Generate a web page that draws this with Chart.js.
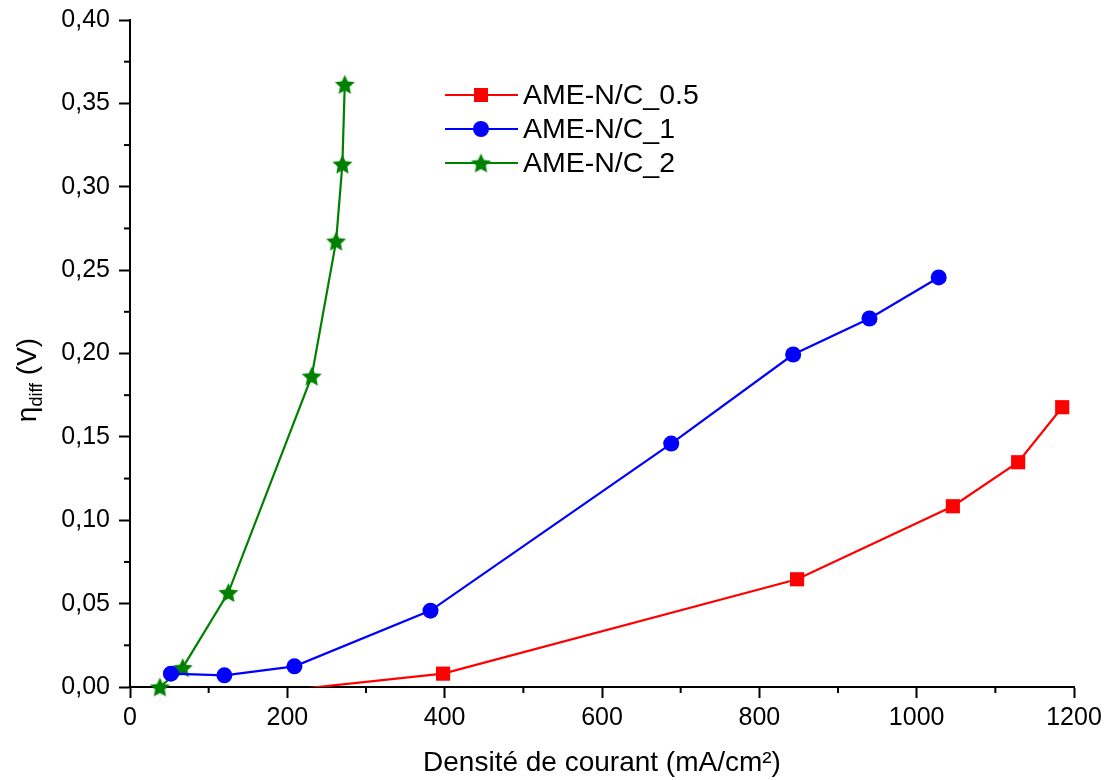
<!DOCTYPE html>
<html lang="fr">
<head>
<meta charset="UTF-8">
<script src="https://cdn.jsdelivr.net/npm/chart.js"></script>
<title>Surtension de diffusion</title>
<style>
    body { margin: 0; background: #fff; }
    #wrap { width: 1107px; height: 780px; }
</style>
</head>
<body>
<div id="wrap"><canvas id="etaChart"></canvas></div>

<script>
// données
const seriesNames = ['AME-N/C_0.5', 'AME-N/C_1', 'AME-N/C_2'];

const x_05 = [100, 398, 848, 1046, 1129, 1185];
const y_05 = [-0.007, 0.008, 0.0646, 0.1084, 0.1348, 0.1678];

const x_1 = [52, 120, 209, 382, 688, 843, 940, 1028];
const y_1 = [0.008, 0.007, 0.0124, 0.0458, 0.146, 0.1994, 0.221, 0.2456];

const x_2 = [38, 67, 125, 231, 262, 270, 273];
const y_2 = [0.0, 0.0116, 0.0566, 0.1864, 0.2674, 0.3136, 0.3614];

const xTicks = [0, 200, 400, 600, 800, 1000, 1200];
const yTicks = [0, 0.05, 0.10, 0.15, 0.20, 0.25, 0.30, 0.35, 0.40];

const FONT = '"Liberation Sans", Arial, sans-serif';

function toPoints(xs, ys) {
    return xs.map((x, i) => ({ x: x, y: ys[i] }));
}

// étoile pleine pour la 3e série
function makeStar(color, r) {
    const c = document.createElement('canvas');
    const s = Math.ceil(r * 2 + 2);
    c.width = s; c.height = s;
    const g = c.getContext('2d');
    g.fillStyle = color;
    g.beginPath();
    for (let i = 0; i < 10; i++) {
        const rad = i % 2 === 0 ? r : r * 0.48;
        const a = -Math.PI / 2 + i * Math.PI / 5;
        const px = s / 2 + rad * Math.cos(a);
        const py = s / 2 + 1 + rad * Math.sin(a);
        if (i === 0) g.moveTo(px, py); else g.lineTo(px, py);
    }
    g.closePath();
    g.fill();
    return c;
}
const starImg = makeStar('#008000', 10.5);

// petites graduations + légende + titre de l'axe y
const extras = {
    id: 'extras',
    afterDraw(chart) {
        const ctx = chart.ctx;
        const xs = chart.scales.x, ys = chart.scales.y;
        const area = chart.chartArea;
        ctx.save();
        ctx.strokeStyle = '#000';
        ctx.lineWidth = 2;
        for (let v = 100; v < 1200; v += 200) {
            const px = xs.getPixelForValue(v);
            ctx.beginPath();
            ctx.moveTo(px, area.bottom);
            ctx.lineTo(px, area.bottom + 6);
            ctx.stroke();
        }
        for (let v = 0.025; v < 0.4; v += 0.05) {
            const py = ys.getPixelForValue(v);
            ctx.beginPath();
            ctx.moveTo(area.left, py);
            ctx.lineTo(area.left - 6, py);
            ctx.stroke();
        }

        // légende
        const rows = [95, 129, 163];
        chart.data.datasets.forEach((ds, i) => {
            const y = rows[i];
            ctx.strokeStyle = ds.borderColor;
            ctx.lineWidth = 2.2;
            ctx.beginPath();
            ctx.moveTo(445, y);
            ctx.lineTo(518, y);
            ctx.stroke();
            ctx.fillStyle = ds.backgroundColor;
            if (ds.pointStyle === 'rect') {
                ctx.fillRect(481 - 7, y - 7, 14, 14);
            } else if (ds.pointStyle === 'circle') {
                ctx.beginPath();
                ctx.arc(481, y, 8, 0, Math.PI * 2);
                ctx.fill();
            } else {
                ctx.drawImage(ds.pointStyle, 481 - ds.pointStyle.width / 2, y - ds.pointStyle.height / 2);
            }
            ctx.fillStyle = '#000';
            ctx.font = '28.5px ' + FONT;
            ctx.textAlign = 'left';
            ctx.textBaseline = 'middle';
            ctx.fillText(ds.label, 523, y + 1);
        });

        // titre axe y : η_diff (V)
        ctx.translate(36, 380);
        ctx.rotate(-Math.PI / 2);
        ctx.fillStyle = '#000';
        ctx.textBaseline = 'alphabetic';
        ctx.textAlign = 'left';
        ctx.font = '28px ' + FONT;
        const w1 = ctx.measureText('η').width;
        ctx.font = '18px ' + FONT;
        const w2 = ctx.measureText('diff').width;
        ctx.font = '28px ' + FONT;
        const w3 = ctx.measureText(' (V)').width;
        let x0 = -(w1 + w2 + w3) / 2;
        ctx.fillText('η', x0, 0);
        ctx.font = '18px ' + FONT;
        ctx.fillText('diff', x0 + w1, 6);
        ctx.font = '28px ' + FONT;
        ctx.fillText(' (V)', x0 + w1 + w2, 0);
        ctx.restore();
    }
};

const ctx = document.getElementById('etaChart').getContext('2d');
const chart = new Chart(ctx, {
    type: 'scatter',
    data: {
        datasets: [
            {
                label: seriesNames[0],
                data: toPoints(x_05, y_05),
                showLine: true,
                borderColor: '#ff0000',
                backgroundColor: '#ff0000',
                borderWidth: 2.2,
                pointStyle: 'rect',
                pointRadius: 10,
                pointHoverRadius: 10,
                pointBorderWidth: 0
            },
            {
                label: seriesNames[1],
                data: toPoints(x_1, y_1),
                showLine: true,
                borderColor: '#0000ff',
                backgroundColor: '#0000ff',
                borderWidth: 2.2,
                pointStyle: 'circle',
                pointRadius: 8,
                pointHoverRadius: 8,
                pointBorderWidth: 0,
                clip: false
            },
            {
                label: seriesNames[2],
                data: toPoints(x_2, y_2),
                showLine: true,
                borderColor: '#008000',
                backgroundColor: '#008000',
                borderWidth: 2.2,
                pointStyle: starImg,
                pointRadius: 10,
                clip: false
            }
        ]
    },
    options: {
        responsive: true,
        maintainAspectRatio: false,
        animation: false,
        layout: { padding: { left: 0, top: 20, right: 33, bottom: 0 } },
        plugins: {
            legend: { display: false },
            tooltip: { enabled: false }
        },
        scales: {
            x: {
                type: 'linear',
                min: 0,
                max: 1200,
                afterFit(s) { s.height = 93; s.paddingLeft = 0; s.paddingRight = 0; },
                afterBuildTicks(s) { s.ticks = xTicks.map(v => ({ value: v })); },
                border: { display: true, color: '#000', width: 2 },
                grid: { drawOnChartArea: false, drawTicks: true, tickLength: 11, tickColor: '#000', tickWidth: 2 },
                ticks: {
                    color: '#000',
                    font: { family: FONT, size: 25 },
                    padding: 5,
                    maxRotation: 0,
                    callback: v => String(v)
                },
                title: {
                    display: true,
                    text: 'Densité de courant (mA/cm²)',
                    color: '#000',
                    font: { family: FONT, size: 28 },
                    padding: { top: 9, bottom: 0 }
                }
            },
            y: {
                type: 'linear',
                min: 0,
                max: 0.4,
                afterFit(s) { s.width = 130; s.paddingTop = 0; s.paddingBottom = 0; },
                afterBuildTicks(s) { s.ticks = yTicks.map(v => ({ value: v })); },
                border: { display: true, color: '#000', width: 2 },
                grid: { drawOnChartArea: false, drawTicks: true, tickLength: 11, tickColor: '#000', tickWidth: 2 },
                ticks: {
                    color: '#000',
                    font: { family: FONT, size: 25 },
                    padding: 9,
                    callback: v => v.toFixed(2).replace('.', ',')
                }
            }
        }
    },
    plugins: [extras]
});
</script>
</body>
</html>
